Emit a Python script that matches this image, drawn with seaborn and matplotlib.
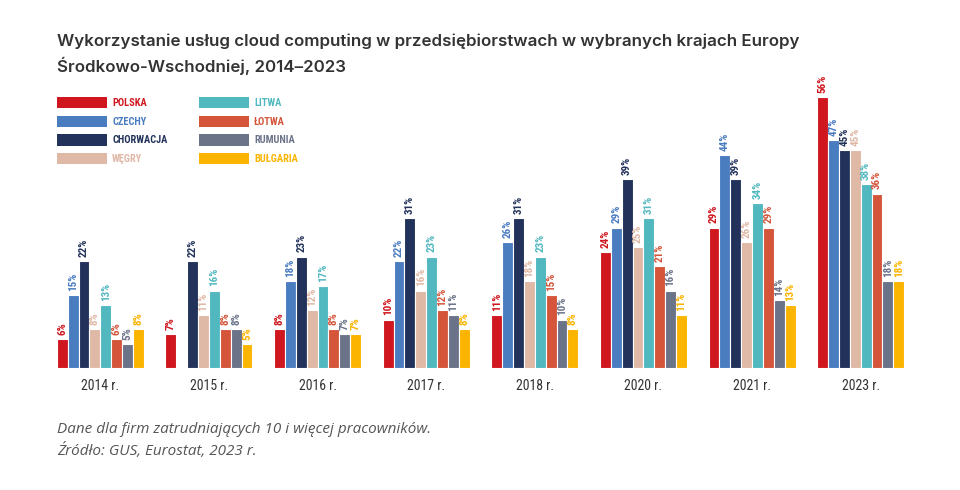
import matplotlib
matplotlib.use("Agg")
import matplotlib.pyplot as plt
import numpy as np
import pandas as pd
import seaborn as sns

# ---- data ----
years = ["2014 r.", "2015 r.", "2016 r.", "2017 r.", "2018 r.", "2020 r.", "2021 r.", "2023 r."]
countries = ["Polska", "Czechy", "Chorwacja", "Węgry", "Litwa", "Łotwa", "Rumunia", "Bułgaria"]

polska    = [6, 7, 8, 10, 11, 24, 29, 56]
czechy    = [15, np.nan, 18, 22, 26, 29, 44, 47]
chorwacja = [22, 22, 23, 31, 31, 39, 39, 45]
wegry     = [8, 11, 12, 16, 18, 25, 26, 45]
litwa     = [13, 16, 17, 23, 23, 31, 34, 38]
lotwa     = [6, 8, 8, 12, 15, 21, 29, 36]
rumunia   = [5, 8, 7, 11, 10, 16, 14, 18]
bulgaria  = [8, 5, 7, 8, 8, 11, 13, 18]

colors = ["#D0161E", "#4A7CC0", "#22325A", "#DFB8A6",
          "#52B8C0", "#D4553A", "#6B7389", "#FBB400"]

series = [polska, czechy, chorwacja, wegry, litwa, lotwa, rumunia, bulgaria]
rows = []
for c, vals in zip(countries, series):
    for y, v in zip(years, vals):
        rows.append({"rok": y, "kraj": c, "wartosc": v})
df = pd.DataFrame(rows)
palette = dict(zip(countries, colors))

COND = ["Roboto Condensed", "Liberation Sans Narrow", "DejaVu Sans"]

sns.set_style("white")
plt.rcParams["font.family"] = ["Open Sans", "DejaVu Sans"]

fig = plt.figure(figsize=(9.6, 4.9), dpi=100)
ax = fig.add_axes([46 / 960, 122 / 490, 869 / 960, 308 / 490])

sns.barplot(data=df, x="rok", y="wartosc", hue="kraj", order=years,
            hue_order=countries, palette=palette, saturation=1,
            width=0.8, edgecolor="white", linewidth=0.8, ax=ax)

# etykiety nad słupkami
for cont, col in zip(ax.containers, colors):
    ax.bar_label(cont, fmt="{:.0f}%", rotation=90, padding=3, color=col,
                 fontsize=8, fontweight="bold", family=COND, fontstretch="condensed")

ax.set_xlim(-0.5, 7.5)
ax.set_ylim(0, 63.6)
ax.set_xlabel("")
ax.set_ylabel("")
ax.set_yticks([])
ax.tick_params(axis="x", length=0, pad=8)
for lbl in ax.get_xticklabels():
    lbl.set_family(COND)
    lbl.set_fontsize(10)
    lbl.set_color("#333333")
sns.despine(ax=ax, left=True, bottom=True)

# legenda
handles, labels = ax.get_legend_handles_labels()
ax.get_legend().remove()
leg = fig.legend(handles, [l.upper() for l in labels], ncol=2,
                 loc="upper left", bbox_to_anchor=(57 / 960, 1 - 97 / 490),
                 frameon=False, borderpad=0, borderaxespad=0,
                 handlelength=4.8, handleheight=1.3,
                 labelspacing=0.7, handletextpad=0.5, columnspacing=3.0,
                 prop={"family": COND, "size": 7.5, "weight": "bold", "stretch": "condensed"})
for txt, col in zip(leg.get_texts(), colors):
    txt.set_color(col)
for h in leg.legend_handles:
    h.set_edgecolor("none")

# tytuł i przypisy
TITLE_FONT = ["Inter", "DejaVu Sans"]
fig.text(57 / 960, 1 - 46 / 490,
         "Wykorzystanie usług cloud computing w przedsiębiorstwach w wybranych krajach Europy",
         fontsize=12.2, fontweight="semibold", color="#333333", family=TITLE_FONT)
fig.text(57 / 960, 1 - 72 / 490, "Środkowo-Wschodniej, 2014–2023",
         fontsize=12.2, fontweight="semibold", color="#333333", family=TITLE_FONT)
fig.text(57 / 960, 1 - 433 / 490,
         "Dane dla firm zatrudniających 10 i więcej pracowników.",
         fontsize=11, style="italic", color="#555555")
fig.text(57 / 960, 1 - 455 / 490, "Źródło: GUS, Eurostat, 2023 r.",
         fontsize=11, style="italic", color="#555555")

fig.savefig("out.png", dpi=100, facecolor="white")
